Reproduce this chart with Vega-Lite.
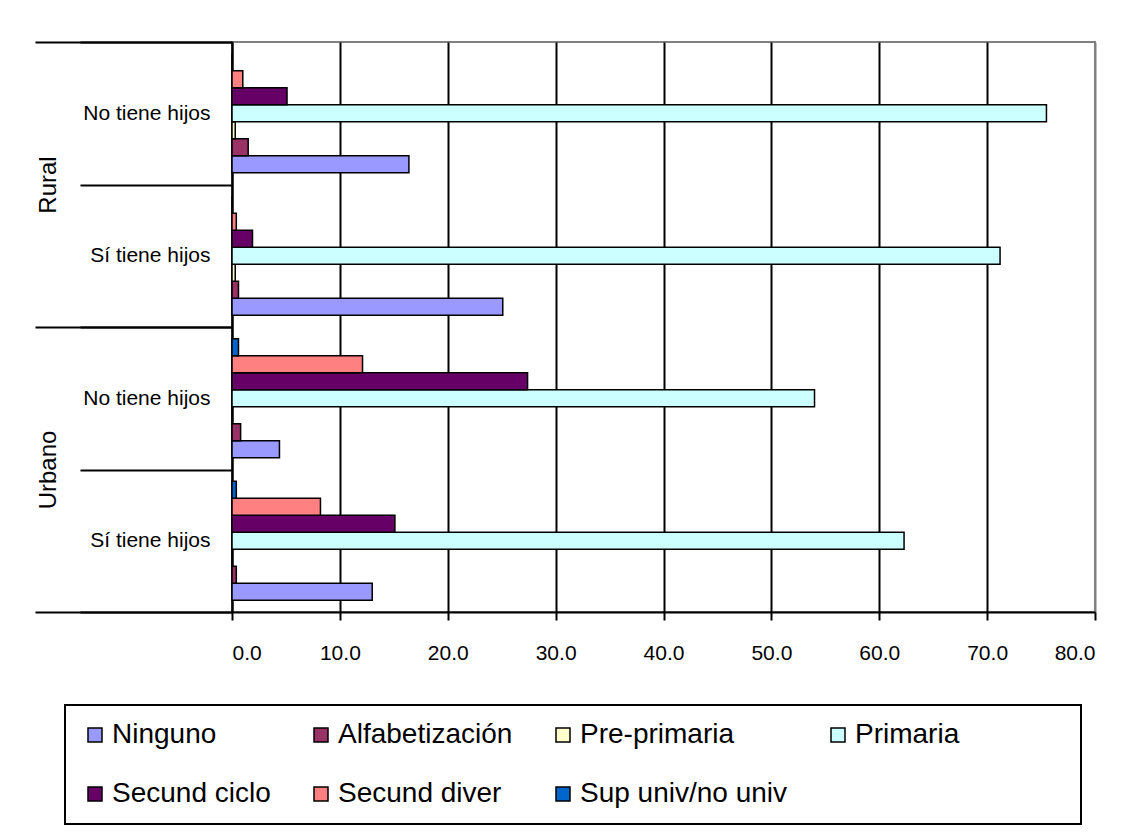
{
  "$schema": "https://vega.github.io/schema/vega-lite/v6.json",
  "autosize": {"type": "none"},
  "width": 863,
  "height": 570,
  "padding": {"left": 232, "top": 42, "right": 28, "bottom": 223},
  "background": "white",
  "config": {
    "view": {"stroke": "#808080", "strokeWidth": 2},
    "font": "Liberation Sans"
  },
  "data": {"values": [
    {"grupo": "Rural|No tiene hijos", "area": "Rural", "nivel": "Ninguno", "valor": 16.4},
    {"grupo": "Rural|No tiene hijos", "area": "Rural", "nivel": "Alfabetización", "valor": 1.5},
    {"grupo": "Rural|No tiene hijos", "area": "Rural", "nivel": "Pre-primaria", "valor": 0.3},
    {"grupo": "Rural|No tiene hijos", "area": "Rural", "nivel": "Primaria", "valor": 75.5},
    {"grupo": "Rural|No tiene hijos", "area": "Rural", "nivel": "Secund ciclo", "valor": 5.1},
    {"grupo": "Rural|No tiene hijos", "area": "Rural", "nivel": "Secund diver", "valor": 1.0},
    {"grupo": "Rural|No tiene hijos", "area": "Rural", "nivel": "Sup univ/no univ", "valor": 0},
    {"grupo": "Rural|Sí tiene hijos", "area": "Rural", "nivel": "Ninguno", "valor": 25.1},
    {"grupo": "Rural|Sí tiene hijos", "area": "Rural", "nivel": "Alfabetización", "valor": 0.6},
    {"grupo": "Rural|Sí tiene hijos", "area": "Rural", "nivel": "Pre-primaria", "valor": 0.3},
    {"grupo": "Rural|Sí tiene hijos", "area": "Rural", "nivel": "Primaria", "valor": 71.2},
    {"grupo": "Rural|Sí tiene hijos", "area": "Rural", "nivel": "Secund ciclo", "valor": 1.9},
    {"grupo": "Rural|Sí tiene hijos", "area": "Rural", "nivel": "Secund diver", "valor": 0.4},
    {"grupo": "Rural|Sí tiene hijos", "area": "Rural", "nivel": "Sup univ/no univ", "valor": 0},
    {"grupo": "Urbano|No tiene hijos", "area": "Urbano", "nivel": "Ninguno", "valor": 4.4},
    {"grupo": "Urbano|No tiene hijos", "area": "Urbano", "nivel": "Alfabetización", "valor": 0.8},
    {"grupo": "Urbano|No tiene hijos", "area": "Urbano", "nivel": "Pre-primaria", "valor": 0},
    {"grupo": "Urbano|No tiene hijos", "area": "Urbano", "nivel": "Primaria", "valor": 54.0},
    {"grupo": "Urbano|No tiene hijos", "area": "Urbano", "nivel": "Secund ciclo", "valor": 27.4},
    {"grupo": "Urbano|No tiene hijos", "area": "Urbano", "nivel": "Secund diver", "valor": 12.1},
    {"grupo": "Urbano|No tiene hijos", "area": "Urbano", "nivel": "Sup univ/no univ", "valor": 0.6},
    {"grupo": "Urbano|Sí tiene hijos", "area": "Urbano", "nivel": "Ninguno", "valor": 13.0},
    {"grupo": "Urbano|Sí tiene hijos", "area": "Urbano", "nivel": "Alfabetización", "valor": 0.4},
    {"grupo": "Urbano|Sí tiene hijos", "area": "Urbano", "nivel": "Pre-primaria", "valor": 0},
    {"grupo": "Urbano|Sí tiene hijos", "area": "Urbano", "nivel": "Primaria", "valor": 62.3},
    {"grupo": "Urbano|Sí tiene hijos", "area": "Urbano", "nivel": "Secund ciclo", "valor": 15.1},
    {"grupo": "Urbano|Sí tiene hijos", "area": "Urbano", "nivel": "Secund diver", "valor": 8.2},
    {"grupo": "Urbano|Sí tiene hijos", "area": "Urbano", "nivel": "Sup univ/no univ", "valor": 0.4}
  ]},
  "resolve": {"scale": {"y": "independent"}, "axis": {"y": "independent"}},
  "layer": [
    {
      "mark": {"type": "bar", "stroke": "black", "strokeWidth": 1.5},
      "encoding": {
        "y": {
          "field": "grupo", "type": "nominal",
          "scale": {"paddingInner": 0, "paddingOuter": 0},
          "axis": {
            "title": null,
            "orient": "left",
            "labelExpr": "split(datum.label, '|')[1]",
            "tickBand": "extent",
            "tickSize": 152,
            "tickWidth": 2,
            "tickColor": "black",
            "domainColor": "black",
            "domainWidth": 2,
            "labelPadding": -130,
            "labelFontSize": 21,
            "labelColor": "black",
            "labelFont": "Liberation Sans",
            "labelAlign": "right",
            "labelBaseline": "middle"
          }
        },
        "yOffset": {
          "field": "nivel", "type": "nominal",
          "sort": ["Sup univ/no univ", "Secund diver", "Secund ciclo", "Primaria", "Pre-primaria", "Alfabetización", "Ninguno"],
          "scale": {"paddingInner": 0, "paddingOuter": 0.69}
        },
        "x": {
          "field": "valor", "type": "quantitative",
          "scale": {"domain": [0, 80], "nice": false},
          "axis": {
            "title": null,
            "values": [0, 10, 20, 30, 40, 50, 60, 70, 80],
            "format": ".1f",
            "grid": true,
            "gridColor": {"condition": {"test": "datum.value === 80", "value": "#808080"}, "value": "black"},
            "gridWidth": 2,
            "gridOpacity": 1,
            "domainColor": "black",
            "domainWidth": 2,
            "tickColor": "black",
            "tickWidth": 2,
            "tickSize": 8,
            "labelPadding": 22,
            "labelFontSize": 21,
            "labelColor": "black",
            "labelFont": "Liberation Sans"
          }
        },
        "color": {
          "field": "nivel", "type": "nominal",
          "scale": {
            "domain": ["Ninguno", "Alfabetización", "Pre-primaria", "Primaria", "Secund ciclo", "Secund diver", "Sup univ/no univ"],
            "range": ["#9999FF", "#993366", "#FFFFCC", "#CCFFFF", "#660066", "#FF8080", "#0066CC"]
          },
          "legend": {
            "title": null,
            "orient": "none",
            "legendX": -167,
            "legendY": 663,
            "direction": "horizontal",
            "columns": 4,
            "gridAlign": "each",
            "columnPadding": 36,
            "rowPadding": 31,
            "padding": 16,
            "strokeColor": "black",
            "symbolType": "square",
            "symbolSize": 196,
            "symbolStrokeColor": "black",
            "symbolStrokeWidth": 1.5,
            "symbolOpacity": 1,
            "labelFont": "Liberation Sans",
            "labelFontSize": 28,
            "labelColor": "black",
            "labelOffset": 3,
            "labelLimit": 400,
            "labelExpr": "datum.label === 'Primaria' ? 'Primaria\u2800\u2800\u2800\u2800\u2800' : datum.label",
            "encode": {"legend": {"update": {"strokeWidth": {"value": 2}}}}
          }
        }
      }
    },
    {
      "mark": {"type": "point", "opacity": 0},
      "encoding": {
        "y": {
          "field": "area", "type": "nominal",
          "scale": {"paddingInner": 0, "paddingOuter": 0},
          "axis": {
            "title": null,
            "orient": "left",
            "domain": false,
            "tickBand": "extent",
            "tickSize": 197,
            "tickWidth": 2,
            "tickColor": "black",
            "labelAngle": -90,
            "labelAlign": "center",
            "labelBaseline": "middle",
            "labelPadding": -13,
            "labelFontSize": 24,
            "labelColor": "black",
            "labelFont": "Liberation Sans"
          }
        }
      }
    }
  ]
}
